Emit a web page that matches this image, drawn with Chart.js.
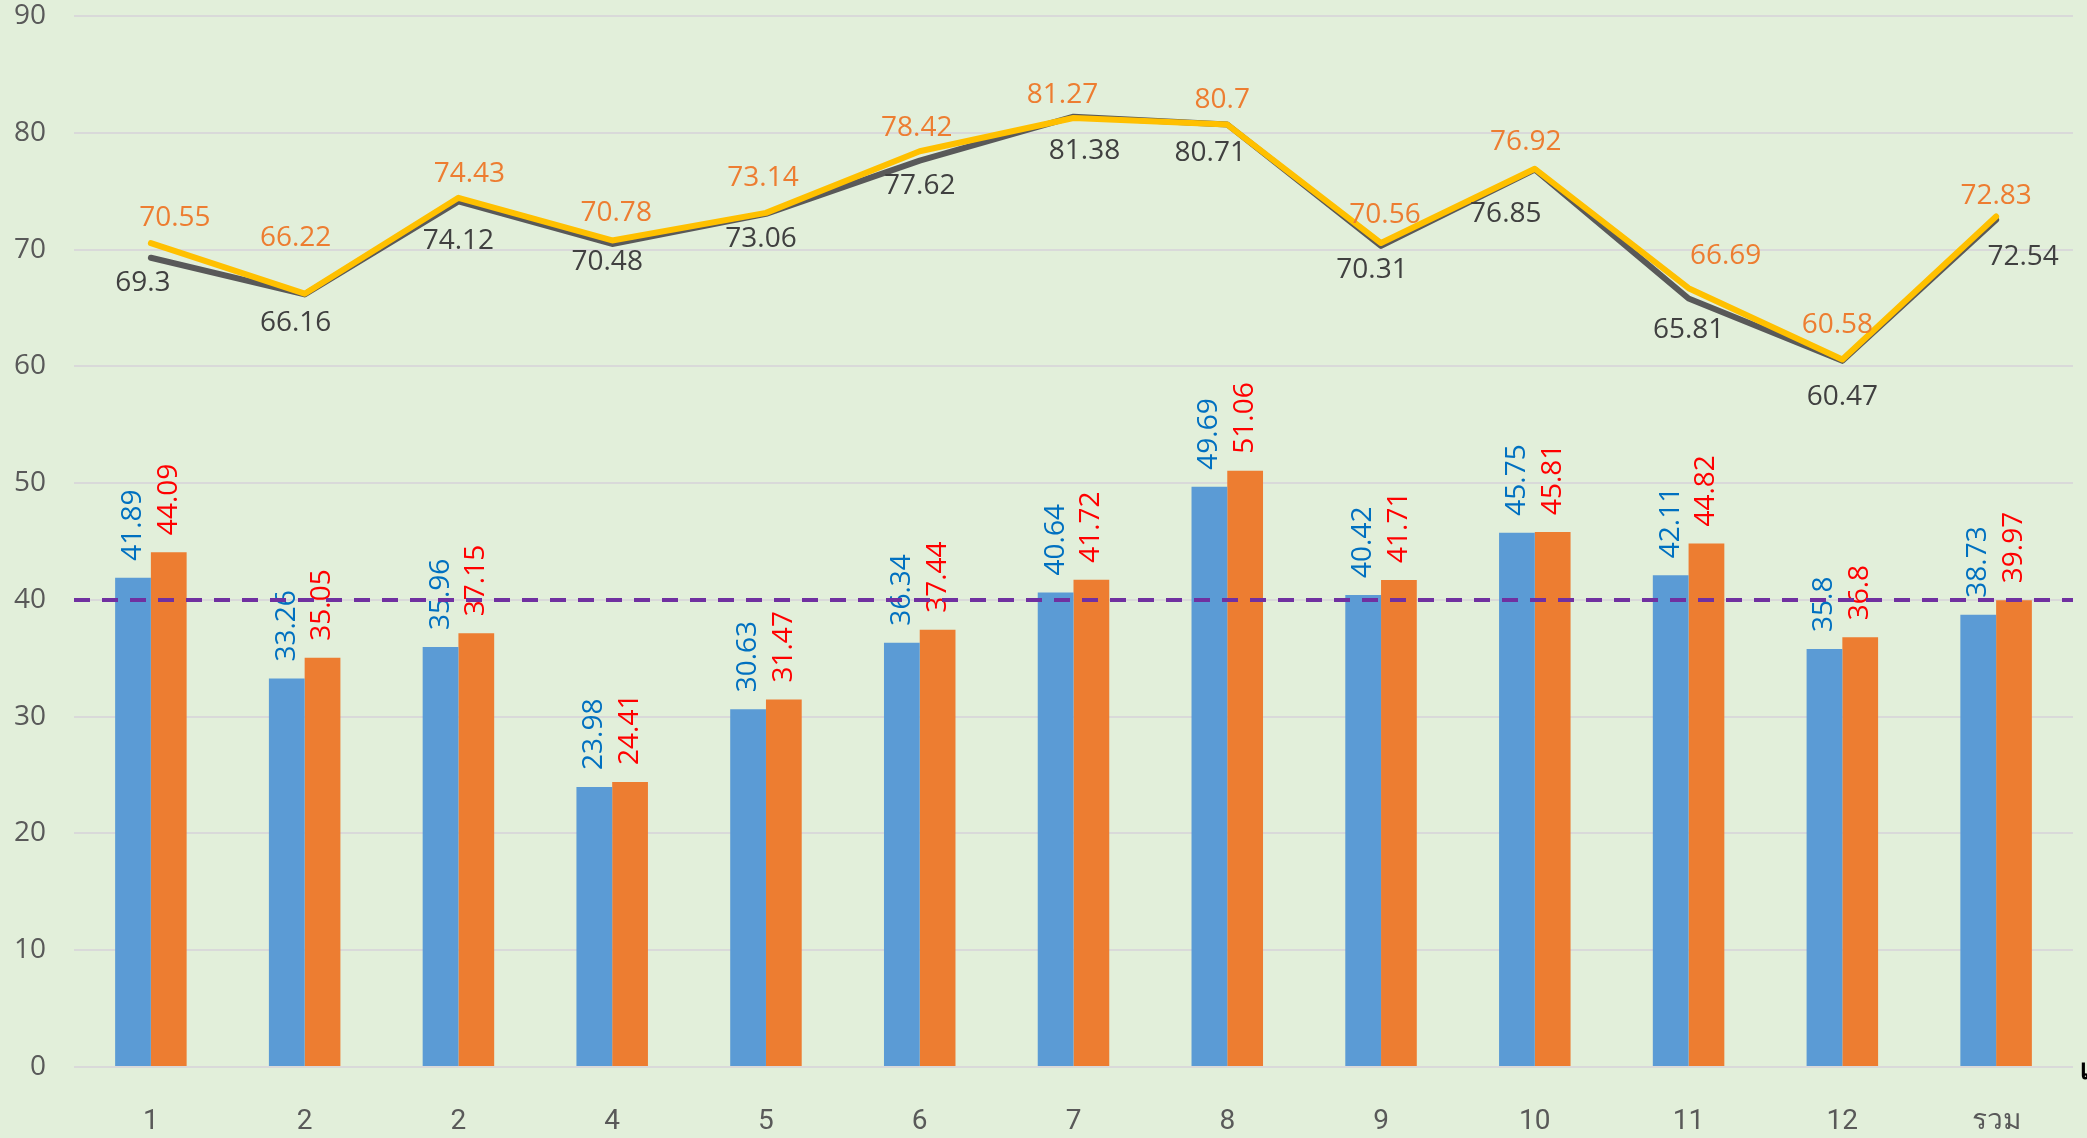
<!DOCTYPE html>
<html>
<head>
<meta charset="utf-8">
<script src="https://cdn.jsdelivr.net/npm/chart.js@4/dist/chart.umd.min.js"></script>
<style>
  html, body { margin: 0; padding: 0; background: #E2EFDA; overflow: hidden; }
  #wrap { width: 2087px; height: 1138px; }
</style>
</head>
<body>
<div id="wrap"><canvas id="c" width="2087" height="1138"></canvas></div>
<script>
// ---- data ----
const categories = ['1', '2', '2', '4', '5', '6', '7', '8', '9', '10', '11', '12', 'รวม'];
const barBlue = [41.89, 33.26, 35.96, 23.98, 30.63, 36.34, 40.64, 49.69, 40.42, 45.75, 42.11, 35.8, 38.73];
const barOrange = [44.09, 35.05, 37.15, 24.41, 31.47, 37.44, 41.72, 51.06, 41.71, 45.81, 44.82, 36.8, 39.97];
const lineGray = [69.3, 66.16, 74.12, 70.48, 73.06, 77.62, 81.38, 80.71, 70.31, 76.85, 65.81, 60.47, 72.54];
const lineGold = [70.55, 66.22, 74.43, 70.78, 73.14, 78.42, 81.27, 80.7, 70.56, 76.92, 66.69, 60.58, 72.83];
const targetValue = 40;
const yMin = 0, yMax = 90, yStep = 10;
const xAxisTitle = 'เดือน';

// ---- style: manual label nudges (pixels), as hand-placed in the original ----
const goldLabelNudge = [[24, 3], [-9, -28], [11, 4], [4, 1], [-3, -7], [-3, 5], [-11, 5], [-5, 3], [4, 0], [-9, 1], [37, -4], [-5, -7], [0, 8]];
const grayLabelNudge = [[-8, -4], [-9, 0], [0, 11], [-5, -11], [-5, -4], [0, -4], [11, 5], [-17, 0], [-9, -5], [-29, 15], [0, 3], [0, 7], [27, 8]];

const LABEL_FONT = '28px "Open Sans", "Noto Sans", sans-serif';

const bgPlugin = {
  id: 'bg',
  beforeDraw(chart) {
    const ctx = chart.ctx;
    ctx.save();
    ctx.fillStyle = '#E2EFDA';
    ctx.fillRect(0, 0, chart.width, chart.height);
    ctx.restore();
  }
};

const labelPlugin = {
  id: 'labels',
  afterDatasetsDraw(chart) {
    const ctx = chart.ctx;
    ctx.save();
    chart.data.datasets.forEach((ds, di) => {
      const meta = chart.getDatasetMeta(di);
      if (!ds._lbl) return;
      meta.data.forEach((el, i) => {
        const v = ds.data[i];
        const txt = String(v);
        ctx.font = LABEL_FONT;
        ctx.fillStyle = ds._lbl.color;
        if (ds._lbl.kind === 'bar') {
          ctx.save();
          ctx.translate(el.x, el.y - 17);
          ctx.rotate(-Math.PI / 2);
          ctx.textAlign = 'left';
          ctx.textBaseline = 'middle';
          ctx.fillText(txt, 0, 0);
          ctx.restore();
        } else {
          const n = (ds._lbl.nudge && ds._lbl.nudge[i]) || [0, 0];
          ctx.textAlign = 'center';
          ctx.textBaseline = 'middle';
          const base = ds._lbl.kind === 'above' ? -28 : 29;
          ctx.fillText(txt, el.x + n[0], el.y + base + n[1]);
        }
      });
    });
    ctx.restore();
  },
  afterDraw(chart) {
    const ctx = chart.ctx;
    const area = chart.chartArea;
    const y = chart.scales.y.getPixelForValue(targetValue);
    ctx.save();
    ctx.strokeStyle = '#7030A0';
    ctx.lineWidth = 4;
    ctx.setLineDash([16, 12]);
    ctx.beginPath();
    ctx.moveTo(area.left, y);
    ctx.lineTo(area.right, y);
    ctx.stroke();
    ctx.restore();
    // x axis title, partially outside the canvas as in the original
    ctx.save();
    ctx.font = 'bold 28px "Noto Sans", "DejaVu Sans", sans-serif';
    ctx.fillStyle = '#000000';
    ctx.textAlign = 'left';
    ctx.textBaseline = 'middle';
    ctx.fillText(xAxisTitle, area.right + 7, chart.scales.y.getPixelForValue(0) + 4);
    ctx.restore();
  }
};

new Chart(document.getElementById('c'), {
  type: 'bar',
  data: {
    labels: categories,
    datasets: [
      {
        type: 'line', data: lineGold, borderColor: '#FFC000', borderWidth: 6,
        pointRadius: 0, borderCapStyle: 'round', borderJoinStyle: 'round',
        order: 0, _lbl: { kind: 'above', color: '#ED7D31', nudge: goldLabelNudge }
      },
      {
        type: 'line', data: lineGray, borderColor: '#595959', borderWidth: 6,
        pointRadius: 0, borderCapStyle: 'round', borderJoinStyle: 'round',
        order: 1, _lbl: { kind: 'below', color: '#404040', nudge: grayLabelNudge }
      },
      {
        data: barBlue, backgroundColor: '#5B9BD5', borderWidth: 0,
        categoryPercentage: 0.465, barPercentage: 1.0,
        order: 2, _lbl: { kind: 'bar', color: '#0070C0' }
      },
      {
        data: barOrange, backgroundColor: '#ED7D31', borderWidth: 0,
        categoryPercentage: 0.465, barPercentage: 1.0,
        order: 3, _lbl: { kind: 'bar', color: '#FF0000' }
      }
    ]
  },
  options: {
    responsive: false,
    animation: false,
    devicePixelRatio: 1,
    layout: { padding: { top: 16, right: 14, left: 0, bottom: 0 } },
    plugins: { legend: { display: false }, tooltip: { enabled: false }, title: { display: false } },
    scales: {
      x: {
        grid: { display: false, drawTicks: false },
        border: { display: false },
        ticks: {
          color: '#595959',
          font: { family: '"Liberation Sans Narrow", "Roboto", sans-serif', size: 28 },
          padding: 38,
          maxRotation: 0, autoSkip: false
        },
        afterFit(scale) { scale.height = 71; scale.paddingLeft = 0; scale.paddingRight = 0; }
      },
      y: {
        min: yMin, max: yMax,
        grid: { color: '#D9D9D9', lineWidth: 2, drawTicks: false },
        border: { display: false },
        ticks: {
          stepSize: yStep,
          color: '#595959',
          font: { family: '"Open Sans", sans-serif', size: 28 },
          padding: 28
        },
        afterFit(scale) { scale.width = 74; scale.paddingTop = 0; scale.paddingBottom = 0; }
      }
    }
  },
  plugins: [bgPlugin, labelPlugin]
});
</script>
</body>
</html>
